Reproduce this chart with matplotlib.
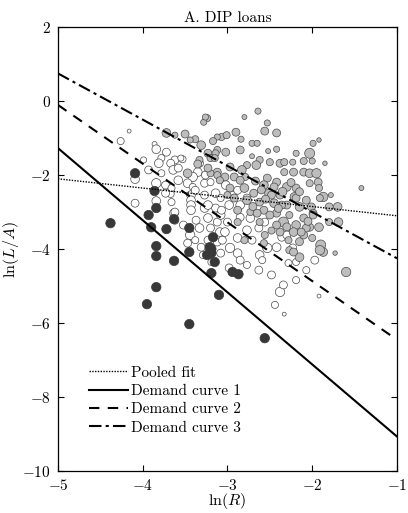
import numpy as np
import matplotlib
matplotlib.use("Agg")
import matplotlib.pyplot as plt

plt.rcParams['font.family'] = ['cmr10', 'DejaVu Serif']
plt.rcParams['mathtext.fontset'] = 'cm'
plt.rcParams['axes.unicode_minus'] = False
plt.rcParams['axes.formatter.use_mathtext'] = True

# ---------------- data ----------------
dark_x = [-4.09, -4.38, -3.86, -3.84, -3.93, -3.90, -3.72, -3.63, -3.45, -3.84, -3.84, -3.63, -3.45,
          -3.24, -3.19, -3.19, -3.15, -3.19, -2.94, -2.87, -3.84, -3.95, -3.45, -3.10, -2.56, -3.17, -3.21]
dark_y = [-1.95, -3.30, -2.43, -2.89, -3.08, -3.41, -3.46, -3.19, -3.43, -3.92, -4.19, -4.32, -4.08,
          -4.16, -4.00, -4.11, -4.35, -4.65, -4.62, -4.68, -5.03, -5.49, -6.03, -5.24, -6.41, -3.68, -3.95]

white_x = [-4.16, -4.26, -3.86, -3.84, -3.72, -3.78, -3.62, -3.53, -3.81, -3.67, -3.64, -3.78, -4.09, -3.84,
           -3.73, -3.58, -3.84, -4.09, -3.67, -3.63, -3.62, -3.44, -3.31, -3.43, -3.43, -3.43, -3.43, -3.27,
           -3.55, -3.33, -3.35, -3.41, -3.58, -3.47, -3.41, -3.27, -3.20, -3.26, -3.73, -3.66, -3.66, -3.38,
           -3.14, -3.62, -3.37, -3.47, -3.33, -3.20, -3.23, -3.12, -3.27, -3.14, -3.08, -3.09, -3.12, -3.38,
           -3.08, -3.03, -2.97, -3.08, -2.88, -2.85, -2.85, -2.77, -2.73, -2.63, -3.00, -2.53, -2.42, -2.36,
           -2.30, -2.62, -2.85, -2.28, -3.07, -1.97, -2.38, -2.44, -1.92, -2.19, -2.63, -2.77, -2.98, -3.19,
           -3.06, -2.88, -2.71, -2.56, -2.94, -3.02, -2.88, -2.77, -2.98, -3.23, -3.52, -3.29, -3.93, -3.99,
           -3.23, -2.48, -2.07, -2.19, -2.34, -2.59, -2.23, -2.33]
white_y = [-0.81, -1.08, -1.16, -1.30, -1.38, -1.54, -1.59, -1.57, -1.68, -1.68, -1.86, -1.95, -2.11, -2.22,
           -2.27, -2.14, -2.70, -2.76, -2.51, -3.03, -3.22, -3.62, -3.95, -2.54, -2.68, -2.81, -2.95, -2.54,
           -1.54, -1.68, -1.92, -2.05, -1.81, -2.22, -2.32, -2.22, -2.19, -2.00, -2.49, -2.73, -2.35, -2.41,
           -2.49, -3.00, -3.22, -3.84, -3.43, -3.43, -3.16, -3.27, -2.89, -2.89, -2.62, -3.54, -3.81, -3.76,
           -3.08, -3.54, -3.97, -4.11, -4.11, -2.81, -3.14, -3.49, -3.16, -3.43, -3.27, -3.97, -3.95, -3.68,
           -3.62, -4.16, -4.30, -4.38, -2.95, -4.30, -5.16, -5.51, -5.27, -4.84, -4.57, -4.43, -4.51, -4.35,
           -3.76, -3.70, -3.76, -3.27, -2.54, -2.27, -2.41, -2.62, -2.81, -2.81, -3.35, -4.16, -1.86, -1.59,
           -3.76, -4.70, -4.57, -4.35, -4.97, -4.30, -3.97, -5.76]
white_s = [6, 20, 10, 30, 25, 20, 25, 20, 30, 25, 30, 20, 30, 35,
           25, 30, 30, 25, 20, 30, 25, 35, 25, 30, 30, 30, 30, 25,
           15, 25, 30, 35, 25, 30, 20, 25, 20, 25, 25, 20, 20, 25,
           30, 25, 25, 25, 30, 25, 30, 25, 30, 25, 20, 30, 25, 20,
           30, 30, 35, 25, 30, 30, 25, 30, 30, 25, 25, 35, 30, 25,
           25, 30, 25, 20, 25, 25, 35, 20, 6, 20, 25, 20, 25, 20,
           25, 30, 25, 25, 25, 30, 25, 25, 30, 30, 25, 20, 25, 15,
           25, 25, 20, 20, 25, 20, 25, 6]

gray_x = [-2.64, -3.24, -3.28, -2.80, -2.53, -2.90, -2.56, -2.42, -3.07, -3.01, -3.12, -2.84, -3.31, -3.17,
          -2.71, -2.65, -1.99, -1.92, -2.03, -2.19, -2.42, -2.52, -2.85, -3.12, -3.02, -3.23, -3.33, -3.20,
          -2.71, -2.62, -2.50, -2.38, -2.33, -2.23, -2.10, -1.85, -2.77, -2.66, -2.97, -2.83, -3.12, -3.20,
          -3.03, -2.92, -2.79, -2.67, -2.53, -2.42, -2.33, -2.22, -2.10, -2.03, -1.93, -2.57, -2.45, -2.30,
          -2.19, -2.03, -2.97, -2.80, -2.69, -2.51, -2.38, -2.21, -2.07, -1.87, -1.80, -1.70, -2.92, -2.77,
          -2.62, -2.45, -2.30, -2.15, -2.01, -1.99, -2.88, -2.73, -2.57, -2.42, -2.27, -2.10, -2.34, -2.19,
          -2.03, -1.92, -2.38, -2.22, -2.10, -1.90, -1.87, -2.15, -2.27, -2.80, -2.57, -1.69, -1.73, -1.60,
          -3.50, -3.38, -3.72, -3.62, -3.44, -3.26, -3.14, -3.15, -3.47, -3.35, -3.23, -3.12, -3.09, -1.42,
          -2.00, -1.95, -1.91, -1.99, -1.80, -1.91, -1.78, -1.92, -2.07, -2.42, -2.56, -2.65, -2.50, -2.13,
          -2.22, -2.62, -2.88, -3.00, -2.85, -2.36, -2.48, -2.19, -2.28, -2.60, -2.35, -2.25, -2.15, -2.55,
          -2.40, -2.70, -2.05, -2.30, -2.48, -2.15, -2.00]
gray_y = [-0.27, -0.46, -0.57, -0.43, -0.59, -0.84, -0.81, -0.86, -0.97, -0.92, -0.97, -1.03, -1.19, -1.08,
          -1.14, -1.14, -1.14, -1.05, -1.41, -1.41, -1.30, -1.35, -1.32, -1.32, -1.38, -1.41, -1.59, -1.54,
          -1.49, -1.59, -1.65, -1.68, -1.65, -1.65, -1.62, -1.68, -1.73, -1.73, -1.78, -1.86, -1.92, -1.95,
          -2.05, -2.05, -2.05, -2.16, -2.08, -2.19, -1.92, -1.92, -1.92, -1.95, -2.19, -2.27, -2.32, -2.32,
          -2.35, -2.22, -2.35, -2.35, -2.49, -2.49, -2.54, -2.59, -2.68, -2.59, -2.86, -2.86, -2.62, -2.68,
          -2.73, -2.76, -2.81, -2.86, -2.86, -3.03, -2.95, -3.00, -2.95, -3.03, -3.08, -3.16, -3.27, -3.35,
          -3.41, -3.41, -3.54, -3.54, -3.62, -3.89, -4.08, -4.22, -4.03, -3.76, -3.84, -3.27, -4.11, -4.62,
          -0.89, -1.03, -0.86, -0.92, -1.05, -0.43, -1.41, -1.54, -1.95, -1.70, -1.81, -2.00, -2.14, -2.35,
          -1.62, -1.95, -2.62, -3.08, -3.27, -4.03, -2.54, -2.35, -3.43, -3.35, -3.62, -3.03, -3.08, -3.54,
          -4.08, -3.27, -3.27, -2.54, -2.14, -2.81, -2.54, -2.62, -3.76, -2.40, -2.45, -2.20, -2.45, -2.65,
          -2.90, -2.85, -3.25, -3.40, -3.50, -3.80, -3.70]
gray_s = [15, 20, 15, 10, 15, 25, 25, 25, 20, 20, 15, 15, 30, 20,
          15, 15, 15, 8, 40, 15, 15, 10, 25, 20, 25, 25, 20, 20,
          10, 20, 20, 25, 20, 15, 20, 8, 20, 30, 25, 30, 25, 20,
          25, 25, 20, 25, 25, 25, 20, 25, 25, 30, 25, 30, 25, 30,
          25, 20, 25, 30, 25, 30, 25, 30, 25, 35, 25, 30, 25, 30,
          25, 30, 25, 30, 25, 25, 25, 20, 25, 25, 20, 25, 40, 30,
          25, 30, 25, 30, 25, 40, 30, 30, 20, 20, 20, 30, 8, 35,
          25, 20, 30, 15, 15, 15, 20, 20, 30, 25, 25, 20, 20, 10,
          15, 35, 20, 25, 20, 35, 10, 20, 25, 25, 20, 25, 25, 25,
          25, 20, 20, 20, 25, 25, 25, 25, 20, 25, 30, 25, 25, 25,
          25, 25, 25, 25, 20, 25, 20]

# line coefficients: y = a + b * ln(R)
line_labels = ['Pooled fit', 'Demand curve 1', 'Demand curve 2', 'Demand curve 3']
line_a = [-3.35, -11.02, -8.04, -5.50]
line_b = [-0.25, -1.95, -1.5875, -1.25]

x_ticks = [-5, -4, -3, -2, -1]
y_ticks = [-10, -8, -6, -4, -2, 0, 2]

# ---------------- figure ----------------
fig = plt.figure(figsize=(4.08, 5.13), dpi=100)
ax = fig.add_axes([0.142, 0.082, 0.831, 0.865])

edge = '#4a4a4a'
scale = 1.3
ax.scatter(white_x, white_y, s=np.array(white_s) * scale, facecolors='white', edgecolors=edge,
           linewidths=0.5, zorder=2)
ax.scatter(gray_x, gray_y, s=np.array(gray_s) * scale, facecolors='#bdbdbd', edgecolors=edge,
           linewidths=0.5, zorder=3)
ax.scatter(dark_x, dark_y, s=[46] * len(dark_x), facecolors='#383838', edgecolors='#383838',
           linewidths=0.5, zorder=4)

xs = np.linspace(-5, -1, 50)
styles = [(0, (1, 1)), '-', (0, (5, 4)), (0, (6, 2, 1.5, 2))]
widths = [1.0, 1.5, 1.5, 1.5]
for lab, a, b, ls, lw in zip(line_labels, line_a, line_b, styles, widths):
    ax.plot(xs, a + b * xs, color='black', linestyle=ls, linewidth=lw, label=lab, zorder=5)

ax.set_xlim(-5, -1)
ax.set_ylim(-10, 2)
ax.set_xticks(x_ticks)
ax.set_yticks(y_ticks)
ax.tick_params(direction='in', top=True, right=True, length=4, width=0.8, labelsize=11, pad=5)
for sp in ax.spines.values():
    sp.set_linewidth(0.9)

ax.set_title('A. DIP loans', fontsize=11, pad=4)
ax.set_xlabel(r'$\ln(R)$', fontsize=11.5, labelpad=-1)
ax.set_ylabel(r'$\ln(L/A)$', fontsize=11.5, labelpad=1)

leg = ax.legend(loc='lower left', bbox_to_anchor=(0.075, 0.068), frameon=False, fontsize=11,
                handlelength=2.5, handletextpad=0.2, labelspacing=0.3, borderaxespad=0)

fig.savefig('out.png', dpi=100)
